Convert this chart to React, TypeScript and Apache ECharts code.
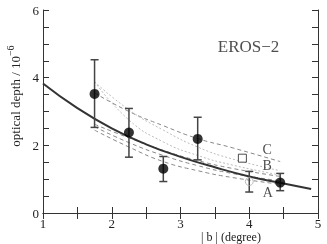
import React, { useEffect, useRef } from "react";
import * as echarts from "echarts";

const obsX = [1.75, 2.25, 2.75, 3.25, 4.45];
const obsY = [3.52, 2.38, 1.31, 2.19, 0.9];
const obsLow = [2.53, 1.65, 0.93, 1.57, 0.66];
const obsHigh = [4.53, 3.09, 1.67, 2.83, 1.17];

const openCircle = [4.0, 0.93, 0.62, 1.23];
const openSquare = [3.9, 1.62];

const fitX = [1, 1.5, 2, 2.5, 3, 3.5, 4, 4.5, 4.9];
const fitY = [3.83, 3.1, 2.5, 2.03, 1.66, 1.35, 1.08, 0.87, 0.71];

const modelX = [1.75, 2.25, 2.75, 3.25, 3.75, 4.45];
const modelC = [3.55, 3.0, 2.58, 2.2, 1.93, 1.52];
const modelD1 = [3.88, 3.05, 2.45, 1.95, 1.6, 1.25];
const modelD2 = [3.88, 2.75, 2.1, 1.7, 1.42, 1.12];
const modelB = [2.62, 2.22, 1.85, 1.55, 1.32, 1.08];
const modelM = [2.55, 2.08, 1.7, 1.4, 1.17, 0.95];
const modelA = [2.45, 1.95, 1.52, 1.25, 1.05, 0.85];

const curveLabels = [
  { name: "C", x: 4.26, y: 1.89 },
  { name: "B", x: 4.26, y: 1.4 },
  { name: "A", x: 4.27, y: 0.61 },
];

const SERIF = "Liberation Serif";

function pairs(xs: number[], ys: number[]) {
  return xs.map((x, i) => [x, ys[i]]);
}

export default function App() {
  const ref = useRef<HTMLDivElement>(null);
  useEffect(() => {
    if (!ref.current) return;
    const chart = echarts.init(ref.current, null, { renderer: "svg" });
    const axisCommon = (show: boolean) => ({
      axisLine: { show: true, lineStyle: { color: "#333", width: 1 } },
      axisTick: { show: true, inside: true, length: 6, lineStyle: { color: "#333" } },
      axisLabel: {
        show,
        color: "#222",
        fontFamily: SERIF,
        fontSize: 13,
        margin: 4,
      },
      splitLine: { show: false },
    });
    const errRender = (params: any, api: any) => {
      const x = api.value(0);
      const lo = api.value(1);
      const hi = api.value(2);
      const p1 = api.coord([x, lo]);
      const p2 = api.coord([x, hi]);
      const w = 4;
      const style = { stroke: "#444", lineWidth: 1.5 };
      return {
        type: "group",
        children: [
          { type: "line", shape: { x1: p1[0], y1: p1[1], x2: p2[0], y2: p2[1] }, style },
          { type: "line", shape: { x1: p1[0] - w, y1: p1[1], x2: p1[0] + w, y2: p1[1] }, style },
          { type: "line", shape: { x1: p2[0] - w, y1: p2[1], x2: p2[0] + w, y2: p2[1] }, style },
        ],
      };
    };
    const modelLine = (data: number[], color: string, type: any) => ({
      type: "line",
      data: pairs(modelX, data),
      smooth: true,
      symbol: "none",
      lineStyle: { color, width: 1, type },
      z: 2,
    });
    const minor = (n: number) => ({ show: true, splitNumber: n, length: 6, lineStyle: { color: "#333" } });
    chart.setOption({
      animation: false,
      grid: { left: 43, right: 9, top: 10, bottom: 31 },
      xAxis: [
        { type: "value", min: 1, max: 5, interval: 1, position: "bottom", minorTick: minor(2), ...axisCommon(true) },
        { type: "value", min: 1, max: 5, interval: 1, position: "top", minorTick: minor(2), ...axisCommon(false) },
      ],
      yAxis: [
        { type: "value", min: 0, max: 6, interval: 2, position: "left", minorTick: minor(4), ...axisCommon(true) },
        { type: "value", min: 0, max: 6, interval: 2, position: "right", minorTick: minor(4), ...axisCommon(false) },
      ],
      series: [
        modelLine(modelC, "#888", [4, 3]),
        modelLine(modelD1, "#bbb", [2, 2]),
        modelLine(modelD2, "#bbb", [2, 2]),
        modelLine(modelB, "#888", [4, 3]),
        modelLine(modelM, "#888", [4, 3]),
        modelLine(modelA, "#888", [4, 3]),
        {
          type: "line",
          data: pairs(fitX, fitY),
          smooth: true,
          symbol: "none",
          lineStyle: { color: "#333", width: 2 },
          z: 3,
        },
        {
          type: "custom",
          renderItem: errRender,
          encode: { x: 0, y: [1, 2] },
          data: [...obsX.map((x, i) => [x, obsLow[i], obsHigh[i]]), [openCircle[0], openCircle[2], openCircle[3]]],
          z: 4,
        },
        {
          type: "scatter",
          data: pairs(obsX, obsY),
          symbol: "circle",
          symbolSize: 10,
          itemStyle: { color: "#000" },
          z: 5,
        },
        {
          type: "scatter",
          data: [[openCircle[0], openCircle[1]]],
          symbol: "circle",
          symbolSize: 8,
          itemStyle: { color: "rgba(0,0,0,0)", borderColor: "#aaa", borderWidth: 1 },
          z: 5,
        },
        {
          type: "scatter",
          data: [openSquare],
          symbol: "rect",
          symbolSize: 8,
          itemStyle: { color: "#fff", borderColor: "#222", borderWidth: 1 },
          z: 5,
        },
        {
          type: "scatter",
          data: curveLabels.map((l) => ({ value: [l.x, l.y], name: l.name })),
          symbolSize: 0,
          label: {
            show: true,
            position: "inside",
            formatter: (p: any) => p.name,
            color: "#222",
            fontFamily: SERIF,
            fontSize: 14,
          },
          z: 6,
        },
        {
          type: "scatter",
          data: [{ value: [3.99, 4.91], name: "EROS\u22122" }],
          symbolSize: 0,
          label: {
            show: true,
            position: "inside",
            formatter: (p: any) => p.name,
            color: "#222",
            fontFamily: SERIF,
            fontSize: 17,
          },
          z: 6,
        },
      ],
      graphic: [
        {
          type: "text",
          x: 231,
          y: 237,
          style: {
            text: "| b | (degree)",
            fontFamily: SERIF,
            fontSize: 12,
            fill: "#222",
            align: "center",
            verticalAlign: "middle",
          },
        },
        {
          type: "text",
          x: 15,
          y: 96,
          rotation: Math.PI / 2,
          style: {
            text: "{a|optical depth / 10}{s|\u22126}",
            fontFamily: SERIF,
            fontSize: 13,
            fill: "#222",
            align: "center",
            verticalAlign: "middle",
            rich: {
              a: { fontFamily: SERIF, fontSize: 13, fill: "#222" },
              s: { fontFamily: SERIF, fontSize: 10, fill: "#222", padding: [0, 0, 9, 0] },
            },
          },
        },
      ],
    });
    return () => chart.dispose();
  }, []);
  return <div ref={ref} style={{ position: "fixed", left: 0, top: 0, width: 327, height: 244 }} />;
}
